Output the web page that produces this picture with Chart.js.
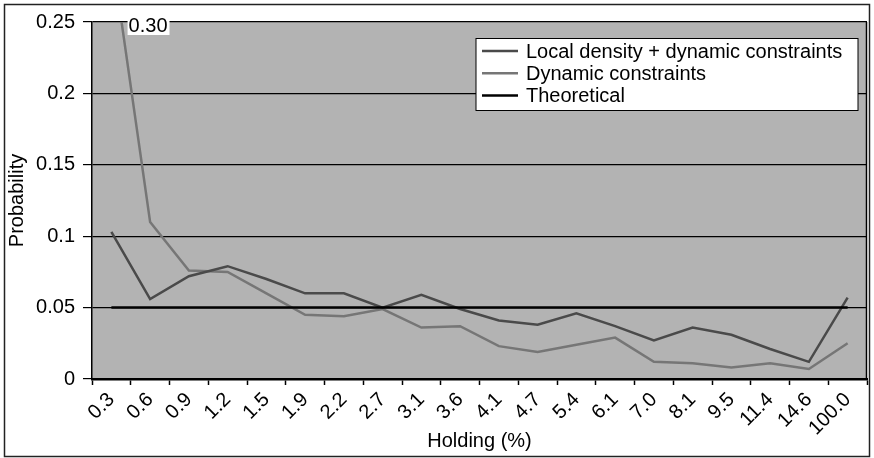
<!DOCTYPE html>
<html>
<head>
<meta charset="utf-8">
<script src="https://cdn.jsdelivr.net/npm/chart.js@4.4.0/dist/chart.umd.min.js"></script>
<style>
  html, body { margin: 0; padding: 0; background: #fff; }
  #wrap { width: 874px; height: 458px; }
</style>
</head>
<body>
<div id="wrap"><canvas id="holdingChart" width="874" height="458"></canvas></div>
<script>
// ===== DATA =====

const holdings = ['0.3', '0.6', '0.9', '1.2', '1.5', '1.9', '2.2', '2.7', '3.1', '3.6',
  '4.1', '4.7', '5.4', '6.1', '7.0', '8.1', '9.5', '11.4', '14.6', '100.0'];

const localDensity = [0.103, 0.056, 0.072, 0.079, 0.070, 0.060, 0.060, 0.050, 0.059, 0.049,
  0.041, 0.038, 0.046, 0.037, 0.027, 0.036, 0.031, 0.021, 0.012, 0.057];

const dynamicOnly = [0.30, 0.110, 0.076, 0.075, 0.060, 0.045, 0.044, 0.049, 0.036, 0.037,
  0.023, 0.019, 0.024, 0.029, 0.012, 0.011, 0.008, 0.011, 0.007, 0.025];

const theoretical = [0.05, 0.05, 0.05, 0.05, 0.05, 0.05, 0.05, 0.05, 0.05, 0.05,
  0.05, 0.05, 0.05, 0.05, 0.05, 0.05, 0.05, 0.05, 0.05, 0.05];

const yTicks = [0, 0.05, 0.1, 0.15, 0.2, 0.25];

const FONT = "'Liberation Sans', Arial, sans-serif";
const FSIZE = 20;

// ===== PLOT BACKGROUND, FRAME, LEGEND, CLIPPED LABEL =====

const excelLook = {
  id: 'excelLook',
  beforeDraw(chart) {
    const { ctx, chartArea: a } = chart;
    ctx.save();
    ctx.fillStyle = '#fff';
    ctx.fillRect(0, 0, chart.width, chart.height);
    ctx.fillStyle = '#b3b3b3';
    ctx.fillRect(a.left, a.top, a.right - a.left, a.bottom - a.top);
    ctx.restore();
  },
  afterDraw(chart) {
    const { ctx, chartArea: a } = chart;
    ctx.save();

    // right edge of plot
    ctx.strokeStyle = '#000';
    ctx.lineWidth = 1.5;
    ctx.beginPath();
    ctx.moveTo(a.right - 0.5, a.top);
    ctx.lineTo(a.right - 0.5, a.bottom);
    ctx.stroke();

    // outer frame
    ctx.strokeStyle = '#222';
    ctx.lineWidth = 1.5;
    ctx.strokeRect(4.5, 4.5, 865, 452);

    // legend
    const lx = a.right - 391, ly = a.top + 16.5, lw = 382, lh = 72;
    ctx.fillStyle = '#fff';
    ctx.fillRect(lx, ly, lw, lh);
    ctx.strokeStyle = '#000';
    ctx.lineWidth = 1;
    ctx.strokeRect(lx, ly, lw, lh);
    ctx.font = FSIZE + 'px ' + FONT;
    ctx.textBaseline = 'middle';
    chart.data.datasets.forEach((ds, i) => {
      const ry = ly + 12.5 + i * 22.2;
      ctx.strokeStyle = ds.borderColor;
      ctx.lineWidth = 2.5;
      ctx.beginPath();
      ctx.moveTo(lx + 6, ry);
      ctx.lineTo(lx + 42, ry);
      ctx.stroke();
      ctx.fillStyle = '#000';
      ctx.fillText(ds.label, lx + 50, ry + 1);
    });

    // label for the value above the axis maximum
    const xs = chart.scales.x, ys = chart.scales.y;
    const x0 = xs.getPixelForValue(0), x1 = xs.getPixelForValue(1);
    const v0 = dynamicOnly[0], v1 = dynamicOnly[1], vmax = ys.max;
    const cross = x0 + (x1 - x0) * (v0 - vmax) / (v0 - v1);
    const txt = v0.toFixed(2);
    const tw = ctx.measureText(txt).width;
    ctx.fillStyle = '#fff';
    ctx.fillRect(cross + 6, a.top - 8, tw + 3, 21);
    ctx.fillStyle = '#000';
    ctx.textBaseline = 'middle';
    ctx.fillText(txt, cross + 7, a.top + 4);

    ctx.restore();
  }
};

// ===== CHART =====

const ctx = document.getElementById('holdingChart').getContext('2d');
const holdingChart = new Chart(ctx, {
  type: 'line',
  data: {
    labels: holdings,
    datasets: [
      {
        label: 'Local density + dynamic constraints',
        data: localDensity,
        borderColor: '#4a4a4a',
        borderWidth: 2.5,
        pointRadius: 0,
        tension: 0,
        order: 1
      },
      {
        label: 'Dynamic constraints',
        data: dynamicOnly,
        borderColor: '#767676',
        borderWidth: 2.5,
        pointRadius: 0,
        tension: 0,
        order: 2
      },
      {
        label: 'Theoretical',
        data: theoretical,
        borderColor: '#000',
        borderWidth: 2.5,
        pointRadius: 0,
        tension: 0,
        order: 0
      }
    ]
  },
  options: {
    responsive: false,
    animation: false,
    devicePixelRatio: 1,
    layout: { padding: { left: 5, top: 22, right: 7, bottom: 0 } },
    plugins: {
      legend: { display: false },
      tooltip: { enabled: false }
    },
    scales: {
      x: {
        offset: true,
        grid: {
          offset: true,
          drawOnChartArea: false,
          drawTicks: true,
          tickLength: 6,
          tickWidth: 1.5,
          tickColor: '#000'
        },
        border: { color: '#000', width: 2.5 },
        ticks: {
          minRotation: 45,
          maxRotation: 45,
          autoSkip: false,
          padding: 3,
          color: '#000',
          font: { family: FONT, size: FSIZE }
        },
        title: {
          display: true,
          text: 'Holding (%)',
          color: '#000',
          font: { family: FONT, size: FSIZE },
          padding: { top: 0, bottom: 5 }
        },
        afterFit(scale) { scale.height = 79; }
      },
      y: {
        min: 0,
        max: 0.25,
        afterBuildTicks(scale) { scale.ticks = yTicks.map(v => ({ value: v })); },
        grid: {
          color: '#000',
          lineWidth: 1.2,
          tickLength: 9,
          tickColor: '#000'
        },
        border: { color: '#000', width: 1.5 },
        ticks: {
          padding: 8,
          color: '#000',
          font: { family: FONT, size: FSIZE },
          callback: v => String(+Number(v).toFixed(2))
        },
        title: {
          display: true,
          text: 'Probability',
          color: '#000',
          font: { family: FONT, size: FSIZE },
          padding: 0
        },
        afterFit(scale) { scale.width = 87; }
      }
    }
  },
  plugins: [excelLook]
});
</script>
</body>
</html>
